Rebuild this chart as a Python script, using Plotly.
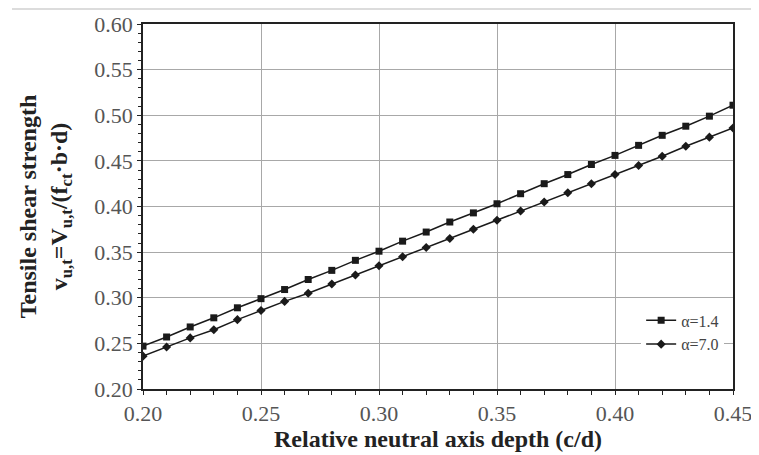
import plotly.graph_objects as go

x_vals = [0.20, 0.21, 0.22, 0.23, 0.24, 0.25, 0.26, 0.27, 0.28, 0.29, 0.30, 0.31, 0.32,
          0.33, 0.34, 0.35, 0.36, 0.37, 0.38, 0.39, 0.40, 0.41, 0.42, 0.43, 0.44, 0.45]
alpha_14 = [0.247, 0.257, 0.268, 0.278, 0.289, 0.299, 0.309, 0.320, 0.330, 0.341, 0.351, 0.362, 0.372,
            0.383, 0.393, 0.403, 0.414, 0.425, 0.435, 0.446, 0.456, 0.467, 0.478, 0.488, 0.499, 0.511]
alpha_70 = [0.236, 0.246, 0.256, 0.265, 0.276, 0.286, 0.296, 0.305, 0.315, 0.325, 0.335, 0.345, 0.355,
            0.365, 0.375, 0.385, 0.395, 0.405, 0.415, 0.425, 0.435, 0.445, 0.455, 0.466, 0.476, 0.486]
series_names = ["α=1.4", "α=7.0"]
x_ticks = [0.20, 0.25, 0.30, 0.35, 0.40, 0.45]
y_ticks = [0.20, 0.25, 0.30, 0.35, 0.40, 0.45, 0.50, 0.55, 0.60]

FONT = "Liberation Serif, Times New Roman, serif"

fig = go.Figure()
fig.add_trace(go.Scatter(
    x=x_vals, y=alpha_14, name=series_names[0], mode="lines+markers",
    line=dict(color="#1a1a1a", width=1.5),
    marker=dict(symbol="square", size=7, color="#1a1a1a"),
))
fig.add_trace(go.Scatter(
    x=x_vals, y=alpha_70, name=series_names[1], mode="lines+markers",
    line=dict(color="#1a1a1a", width=1.5),
    marker=dict(symbol="diamond", size=7, color="#1a1a1a"),
))

axis_common = dict(
    showline=True, linecolor="#222222", linewidth=1.5, mirror=True,
    showgrid=True, gridcolor="#a8a8a8", gridwidth=1,
    ticks="outside", ticklen=4, tickcolor="#222222",
    tickfont=dict(family=FONT, size=22, color="#555555"),
    zeroline=False, automargin=False,
)

fig.update_xaxes(
    range=[0.20, 0.45], tickvals=x_ticks, ticktext=[f"{v:.2f}" for v in x_ticks],
    minor=dict(dtick=0.01, tick0=0.20, ticks="outside", ticklen=4, tickcolor="#222222", showgrid=False),
    title=dict(text="<b>Relative neutral axis depth (c/d)</b>",
               font=dict(family=FONT, size=24, color="#222222"), standoff=0),
    **axis_common,
)
fig.update_yaxes(
    range=[0.20, 0.60], tickvals=y_ticks, ticktext=[f"{v:.2f}" for v in y_ticks],
    minor=dict(dtick=0.01, tick0=0.20, ticks="outside", ticklen=3, tickcolor="#222222", showgrid=False),
    title=dict(text="<b>Tensile shear strength<br>v<sub>u,t</sub>=V<sub>u,t</sub>/(f<sub>ct</sub>·b·d)</b>",
               font=dict(family=FONT, size=24, color="#222222"), standoff=20),
    **axis_common,
)

fig.update_layout(
    width=759, height=455,
    margin=dict(l=135, r=34, t=16, b=74),
    paper_bgcolor="white", plot_bgcolor="white",
    showlegend=True,
    legend=dict(
        x=0.985, y=0.155, xanchor="right", yanchor="middle",
        bgcolor="white", borderwidth=0,
        font=dict(family=FONT, size=16, color="#444444"),
        itemwidth=30, tracegroupgap=2,
    ),
    shapes=[dict(type="line", xref="paper", yref="paper", x0=-0.222, x1=1.06,
                 y0=1.041, y1=1.041, line=dict(color="#d0d0d0", width=1.5))],
)

fig.write_html("out.html")
